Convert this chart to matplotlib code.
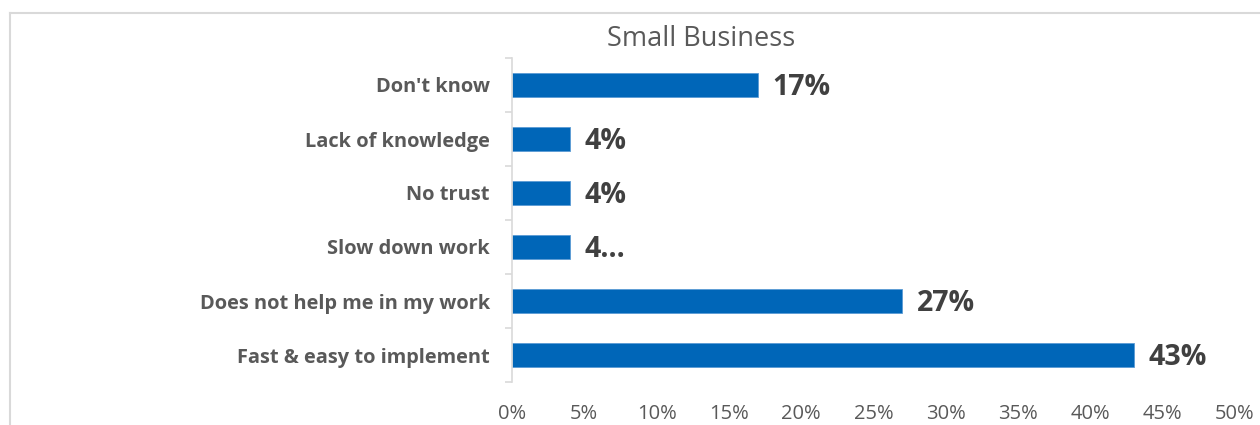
import matplotlib.pyplot as plt
from matplotlib.lines import Line2D

plt.rcParams['font.family'] = ['Open Sans', 'DejaVu Sans']

# reasons, top to bottom
categories = ["Don't know", "Lack of knowledge", "No trust", "Slow down work",
              "Does not help me in my work", "Fast & easy to implement"]
values = [17, 4, 4, 4, 27, 43]
value_labels = ["17%", "4%", "4%", "4\u2026", "27%", "43%"]
xticks = [0, 5, 10, 15, 20, 25, 30, 35, 40, 45, 50]

fig = plt.figure(figsize=(12.6, 4.25), dpi=100)
ax = fig.add_axes([512 / 1260, 1 - 382 / 425, (1235 - 512) / 1260, (382 - 58) / 425])

ypos = list(range(len(categories)))
ax.barh(ypos, values, height=0.44, color='#0066B8', edgecolor='#5B9BD5', linewidth=0.6)
ax.set_ylim(len(categories) - 0.5, -0.5)
ax.set_xlim(0, 50)

for y, v, lab in zip(ypos, values, value_labels):
    ax.text(v + 1.0, y + 0.05, lab, va='center', ha='left', fontsize=20.5,
            fontweight='bold', color='#404040')

ax.set_yticks(ypos)
ax.set_yticklabels(categories, fontsize=14.4, fontweight='bold', color='#595959')
ax.set_yticks([i - 0.5 for i in range(len(categories) + 1)], minor=True)
ax.tick_params(axis='y', which='major', length=0, pad=16)
ax.tick_params(axis='y', which='minor', length=5, color='#D9D9D9', width=1.2)

ax.set_xticks(xticks)
ax.set_xticklabels([f'{t}%' for t in xticks], fontsize=14.5, color='#595959')
ax.tick_params(axis='x', length=0, pad=16)

for side in ['top', 'right', 'bottom']:
    ax.spines[side].set_visible(False)
ax.spines['left'].set_color('#D9D9D9')
ax.spines['left'].set_linewidth(1.2)

fig.text(701 / 1260, 1 - 39 / 425, 'Small Business', ha='center', va='center',
         fontsize=19.5, color='#595959')

# chart area frame
fig.add_artist(Line2D([10 / 1260, 10 / 1260], [0, 1 - 13 / 425], transform=fig.transFigure,
                      color='#D9D9D9', linewidth=1.5))
fig.add_artist(Line2D([10 / 1260, 1], [1 - 13 / 425, 1 - 13 / 425], transform=fig.transFigure,
                      color='#D9D9D9', linewidth=1.5))

fig.savefig('out.png', dpi=100)
